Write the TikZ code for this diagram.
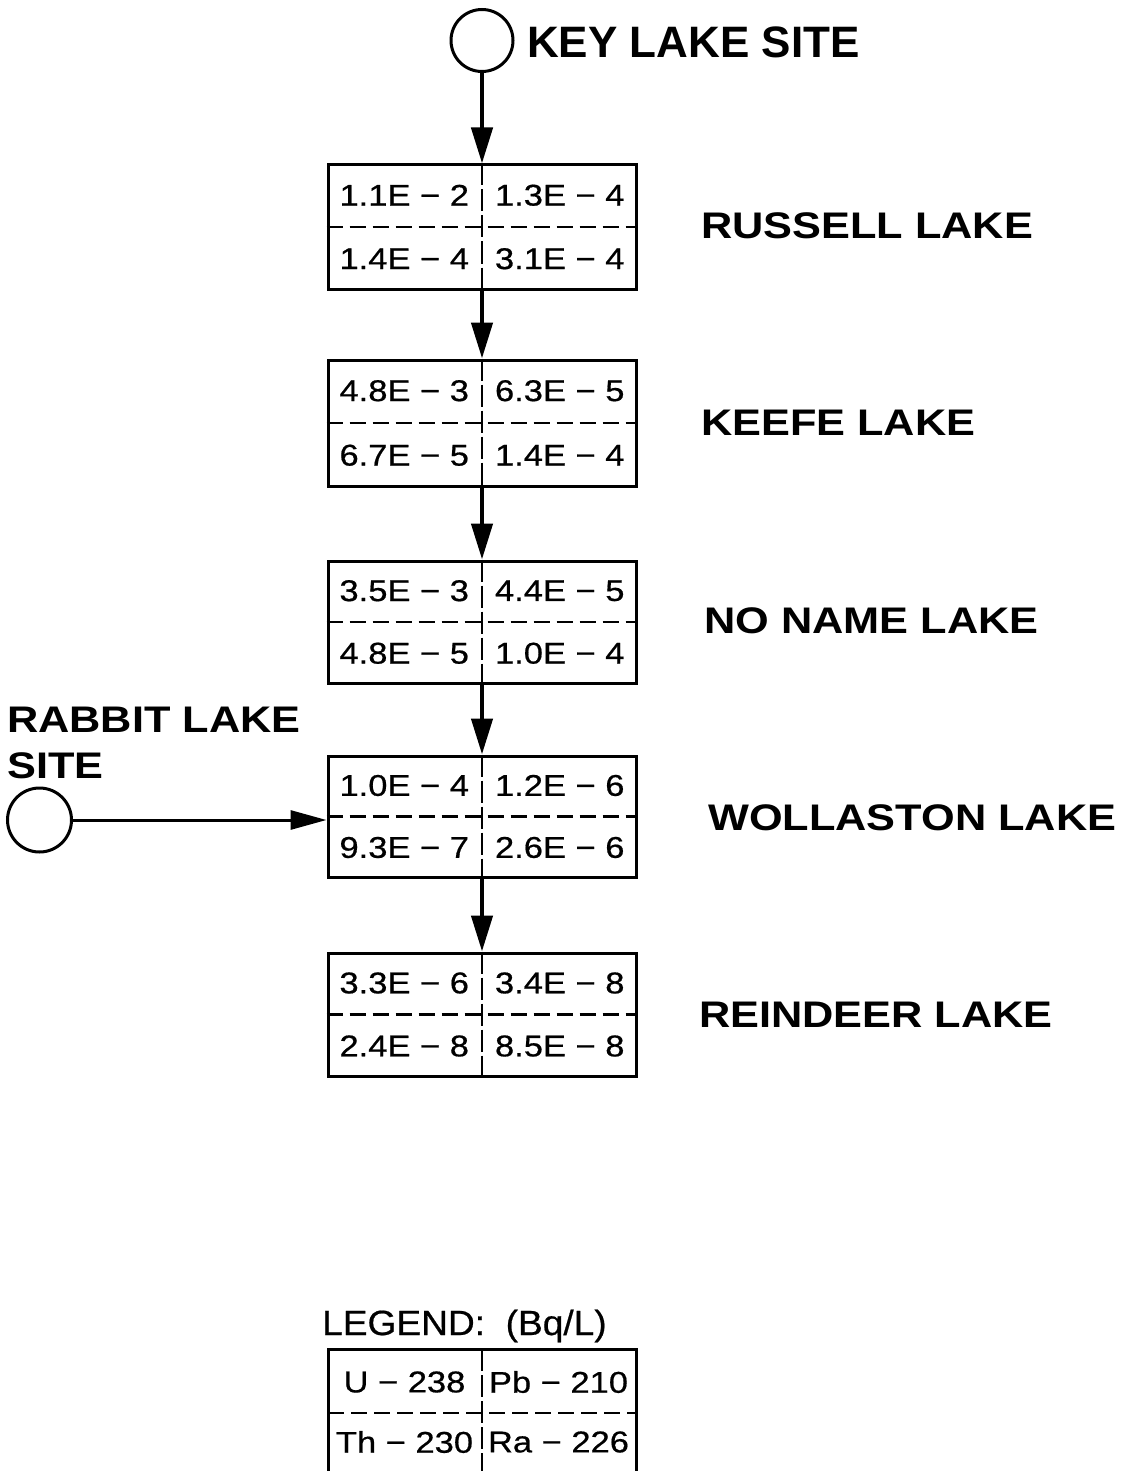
\documentclass[tikz,border=0pt]{standalone}
\usepackage{fontspec}
\setmainfont{Liberation Sans}
\newfontfamily\stretchfont[FakeStretch=1.17]{Liberation Sans}
\newfontfamily\numfont[FakeStretch=1.15,FakeBold=0.6]{Liberation Sans}
\newfontfamily\legfont[FakeStretch=1.06,FakeBold=0.6]{Liberation Sans}
\usetikzlibrary{arrows.meta,calc}
\newcommand\databox[7]{%
  \node[lbox,minimum height=#3pt] (#1) at (482,#2) {};
  \draw[hdash] (#1.west) -- (#1.east);
  \draw[vdash] (#1.north) -- (#1.south);
  \node[num] (#1a) at ($(#1.north west)!.25!(#1.south east)$) {#4};
  \node[num] (#1b) at ($(#1.north east)!.25!(#1.south west)$) {#5};
  \node[num] (#1c) at ($(#1.south west)!.25!(#1.north east)$) {#6};
  \node[num] (#1d) at ($(#1.south east)!.25!(#1.north west)$) {#7};
}
\begin{document}
\begin{tikzpicture}[x=1pt,y=-1pt,
  lbox/.style={draw,line width=3pt,minimum width=308pt,inner sep=0pt},
  hdash/.style={line width=2.4pt,dash pattern=on 16pt off 7pt},
  vdash/.style={line width=2pt,dash pattern=on 22pt off 4pt},
  num/.style={inner sep=0pt,font=\numfont\fontsize{30}{34}\selectfont},
  lake/.style={inner sep=0pt,anchor=west,font=\stretchfont\bfseries\fontsize{37}{46}\selectfont},
  site/.style={circle,draw,line width=3pt,minimum size=62pt,inner sep=0pt},
  varr/.style={line width=4.5pt,-{Triangle[length=36pt,width=21pt]}},
  harr/.style={line width=3pt,-{Triangle[length=36pt,width=19pt]}}]
\useasboundingbox (0,0) rectangle (1121,1471);

% sites
\node[site] (key) at (482,40.5) {};
\node[inner sep=0pt,anchor=west,font=\bfseries\fontsize{44}{52}\selectfont] (keyl) at (527,42) {KEY LAKE SITE};
\node[site,minimum size=64pt] (rab) at (39.5,820) {};
\node[inner sep=0pt,anchor=north west,align=left,font=\stretchfont\bfseries\fontsize{37}{46}\selectfont] (rabl) at (7,707) {RABBIT LAKE\\SITE};

% data boxes
\databox{r1}{227}{124}{1.1E − 2}{1.3E − 4}{1.4E − 4}{3.1E − 4}
\databox{r2}{423}{126}{4.8E − 3}{6.3E − 5}{6.7E − 5}{1.4E − 4}
\databox{r3}{622}{122}{3.5E − 3}{4.4E − 5}{4.8E − 5}{1.0E − 4}
\databox{r4}{816.5}{121}{1.0E − 4}{1.2E − 6}{9.3E − 7}{2.6E − 6}
\databox{r5}{1014.5}{123}{3.3E − 6}{3.4E − 8}{2.4E − 8}{8.5E − 8}

% lake labels
\node[lake] (l1) at (701,226) {RUSSELL LAKE};
\node[lake] (l2) at (701,423) {KEEFE LAKE};
\node[lake] (l3) at (704,621) {NO NAME LAKE};
\node[lake] (l4) at (708,818) {WOLLASTON LAKE};
\node[lake] (l5) at (699,1015) {REINDEER LAKE};

% connectors
\draw[varr] (key) -- (r1.north);
\draw[varr] (r1.south) -- (r2.north);
\draw[varr] (r2.south) -- (r3.north);
\draw[varr] (r3.south) -- (r4.north);
\draw[varr] (r4.south) -- (r5.north);
\draw[harr] (rab) -- (rab -| r4.west);

% legend
\node[inner sep=0pt,anchor=base west,font=\legfont\fontsize{35}{42}\selectfont] (legt) at (322,1335) {LEGEND:~~(Bq/L)};
\coordinate (lgnw) at (328,1349);
\coordinate (lgne) at (636,1349);
\coordinate (lgsw) at (328,1474);
\coordinate (lgse) at (636,1474);
\draw[line width=3pt] (lgsw) -- (lgnw) -- (lgne) -- (lgse);
\draw[hdash] (328,1413) -- (636,1413);
\draw[vdash] (482,1349) -- (482,1474);
\node[num] (lga) at (404.5,1382) {U − 238};
\node[num] (lgb) at (558.5,1382) {Pb − 210};
\node[num] (lgc) at (404.5,1442) {Th − 230};
\node[num] (lgd) at (558.5,1442) {Ra − 226};
\end{tikzpicture}
\end{document}
